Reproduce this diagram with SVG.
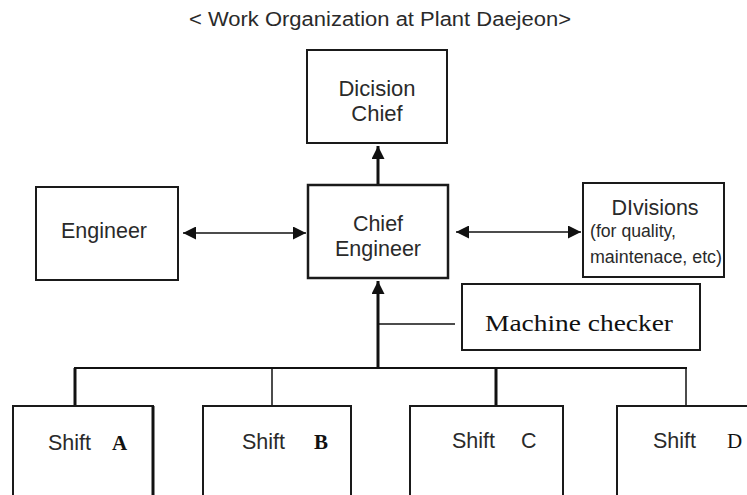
<svg xmlns="http://www.w3.org/2000/svg" width="747" height="495" viewBox="0 0 747 495">
  <style>
    .box { fill: #ffffff; stroke: #1a1a1a; stroke-width: 2; }
    .lbl { font-family: "Liberation Sans", Arial, sans-serif; fill: #2a2a2a; font-size: 21.5px; }
    .mid { text-anchor: middle; }
    .small { font-size: 17.5px; }
    .title { font-size: 20px; }
    .serif { font-family: "Liberation Serif", "Times New Roman", serif; fill: #111; }
    .wire { fill: none; stroke: #111; }
    .thin { stroke-width: 1.5; }
    .thick { stroke-width: 3; }
    .bus { stroke-width: 2; }
  </style>
  <defs>
    <marker id="head" viewBox="0 0 13 13" refX="13" refY="6.5" markerWidth="13" markerHeight="13"
            markerUnits="userSpaceOnUse" orient="auto-start-reverse">
      <path d="M0,0 L13,6.5 L0,13 z" fill="#111"/>
    </marker>
  </defs>

  <rect width="747" height="495" fill="#ffffff"/>

  <text class="lbl title" x="189" y="26" textLength="382" lengthAdjust="spacingAndGlyphs">&lt; Work Organization at Plant Daejeon&gt;</text>

  <!-- connectors -->
  <g id="connectors">
    <line class="wire thick" x1="378" y1="184" x2="378" y2="146" marker-end="url(#head)"/>
    <line class="wire thin" x1="183" y1="233" x2="306" y2="233" marker-start="url(#head)" marker-end="url(#head)"/>
    <line class="wire thin" x1="456" y1="232" x2="581" y2="232" marker-start="url(#head)" marker-end="url(#head)"/>
    <line class="wire thick" x1="378" y1="368" x2="378" y2="281" marker-end="url(#head)"/>
    <line class="wire thin" x1="378" y1="324" x2="455" y2="324"/>
    <line class="wire bus" x1="74" y1="368" x2="687" y2="368"/>
    <line class="wire thick" x1="75" y1="368" x2="75" y2="406"/>
    <line class="wire thin" x1="272" y1="368" x2="272" y2="406"/>
    <line class="wire thick" x1="496" y1="368" x2="496" y2="406"/>
    <line class="wire thin" x1="686" y1="368" x2="686" y2="406"/>
  </g>

  <g id="decision-chief">
    <rect class="box" x="307" y="50" width="140" height="93"/>
    <text class="lbl mid" x="377" y="96" style="font-size:22px">Dicision</text>
    <text class="lbl mid" x="377" y="121" style="font-size:22px">Chief</text>
  </g>

  <g id="engineer">
    <rect class="box" x="36" y="187" width="142" height="93"/>
    <text class="lbl mid" x="104" y="238">Engineer</text>
  </g>

  <g id="chief-engineer">
    <rect class="box" x="308" y="185" width="140" height="93" style="stroke-width:2.5"/>
    <text class="lbl mid" x="378" y="231">Chief</text>
    <text class="lbl mid" x="378" y="256">Engineer</text>
  </g>

  <g id="divisions">
    <rect class="box" x="583" y="183" width="141" height="94"/>
    <text class="lbl mid" x="655" y="215">DIvisions</text>
    <text class="lbl small" x="590" y="237" textLength="86" lengthAdjust="spacingAndGlyphs">(for quality,</text>
    <text class="lbl small" x="590" y="263" textLength="132" lengthAdjust="spacingAndGlyphs">maintenace, etc)</text>
  </g>

  <g id="machine-checker">
    <rect class="box" x="462" y="284" width="238" height="66"/>
    <text class="serif" x="485" y="331" font-size="24" textLength="188" lengthAdjust="spacingAndGlyphs">Machine checker</text>
  </g>

  <g id="shift-a">
    <rect class="box" x="13" y="406" width="140" height="100"/>
    <line class="wire" x1="153" y1="406" x2="153" y2="495" stroke-width="3"/>
    <text class="lbl" x="48" y="450">Shift</text>
    <text class="serif" x="112" y="450" font-size="21" font-weight="bold">A</text>
  </g>

  <g id="shift-b">
    <rect class="box" x="203" y="406" width="148" height="100"/>
    <text class="lbl" x="242" y="449">Shift</text>
    <text class="serif" x="314" y="449" font-size="21" font-weight="bold">B</text>
  </g>

  <g id="shift-c">
    <rect class="box" x="410" y="406" width="153" height="100"/>
    <text class="lbl" x="452" y="448">Shift</text>
    <text class="lbl" x="521" y="448">C</text>
  </g>

  <g id="shift-d">
    <rect class="box" x="617" y="406" width="150" height="100"/>
    <text class="lbl" x="653" y="448">Shift</text>
    <text class="serif" x="727" y="448" font-size="21">D</text>
  </g>
</svg>
